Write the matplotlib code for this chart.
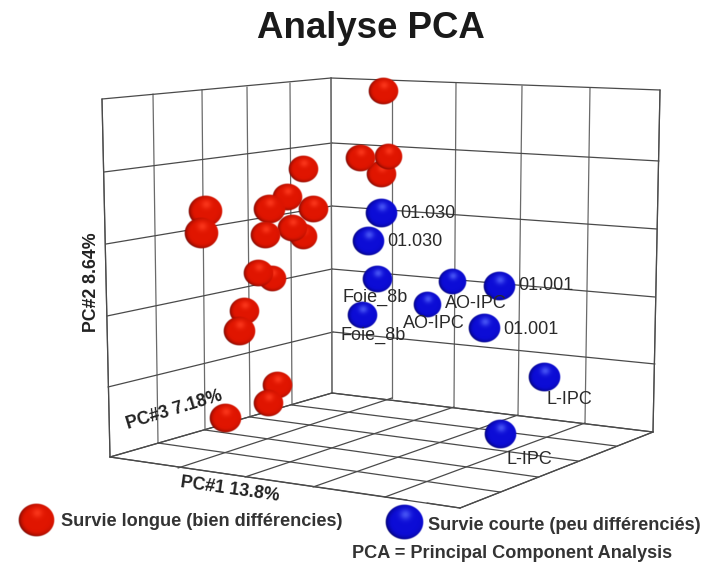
import numpy as np
import matplotlib
matplotlib.use('Agg')
import matplotlib.pyplot as plt

plt.rcParams['font.family'] = ['Liberation Sans', 'DejaVu Sans']

# grid corners, read in picture pixels
left_top = [(102, 99), (153, 94), (202, 90), (247, 87), (290, 83), (331, 78)]
left_bottom = [(110, 457), (158, 443), (205, 430), (250, 417), (292, 405), (332, 393)]
left_edge = [(102, 99), (104, 172), (106, 244), (107, 316), (108, 387), (110, 457)]
center_edge = [(331, 78), (332, 143), (332, 206), (332, 269), (333, 332), (332, 393)]
right_top = [(331, 78), (392, 80), (456, 83), (522, 86), (590, 88), (660, 90)]
right_bottom = [(332, 393), (392, 398), (454, 407), (518, 415), (585, 423), (653, 432)]
right_edge = [(660, 90), (659, 161), (657, 229), (655, 297), (655, 364), (653, 432)]
floor_front_left = [(110, 457), (178, 468), (245, 477), (313, 487), (385, 497), (460, 508)]
floor_front_right = [(460, 508), (500, 492), (538, 477), (578, 461), (616, 446), (653, 432)]

# red group
red_x = [383, 381, 388, 360, 303, 287, 313, 269, 303, 292, 265, 205, 201, 272, 258, 244, 239, 277, 268, 225]
red_y = [91, 174, 157, 158, 169, 197, 209, 209, 237, 228, 235, 211, 233, 279, 273, 311, 331, 385, 403, 418]
red_r = [15, 15, 14, 15, 15, 15, 15, 16, 14, 15, 15, 17, 17, 14, 15, 15, 16, 15, 15, 16]

# blue group
blue_x = [381, 368, 377, 452, 499, 427, 362, 484, 544, 500]
blue_y = [213, 241, 279, 282, 286, 305, 315, 328, 377, 434]
blue_r = [16, 16, 15, 14, 16, 14, 15, 16, 16, 16]

point_labels = ['01.030', '01.030', 'Foie_8b', 'Foie_8b', 'AO-IPC', 'AO-IPC', '01.001', '01.001', 'L-IPC', 'L-IPC']
label_x = [400, 387, 343, 340, 445, 403, 518, 503, 547, 506]
label_y = [214, 242, 297, 335, 303, 324, 286, 330, 399, 460]

RED = ('#6e0500', '#e01500', '#ff3c20')
BLUE = ('#00006a', '#0c0cd6', '#5262fa')


def draw_sphere(ax, x, y, r, colors, z):
    dark, mid, light = [np.array(matplotlib.colors.to_rgb(c)) for c in colors]
    rx = r + 0.5
    ry = rx * 0.9
    n = int(rx * 6)
    yy, xx = np.mgrid[-1:1:n * 1j, -1:1:n * 1j]
    d = np.hypot(xx, yy)
    edge = np.clip((d - 0.6) / 0.4, 0, 1) ** 2
    # darker rim on the left and bottom side
    edge = np.clip(edge * (0.55 - 0.5 * xx + 0.25 * yy), 0, 1)
    hl = np.exp(-((xx - 0.05) ** 2 + (yy + 0.42) ** 2) / 0.08)
    rgb = mid + (dark - mid) * edge[..., None] + (light - mid) * (0.8 * hl)[..., None]
    alpha = np.clip((1 - d) * ry, 0, 1)
    img = np.dstack([np.clip(rgb, 0, 1), alpha])
    ax.imshow(img, extent=(x - rx, x + rx, y + ry, y - ry), aspect='auto',
              interpolation='bilinear', zorder=z)


def grid_lines(ax, starts, ends, color='#4a4a4a', lw=0.9):
    for a, b in zip(starts, ends):
        ax.plot([a[0], b[0]], [a[1], b[1]], color=color, lw=lw, zorder=1, solid_capstyle='round')


fig = plt.figure(figsize=(7.05, 5.65), dpi=100)
ax = fig.add_axes([0, 0, 1, 1])

grid_lines(ax, left_top, left_bottom, color='#6a6a6a')
grid_lines(ax, left_edge, center_edge)
grid_lines(ax, right_top, right_bottom, color='#6a6a6a')
grid_lines(ax, center_edge, right_edge)
grid_lines(ax, left_bottom, floor_front_right)
grid_lines(ax, floor_front_left, right_bottom)

# outer edges
grid_lines(ax, [left_edge[0]], [left_edge[-1]])
grid_lines(ax, [right_edge[0]], [right_edge[-1]])
grid_lines(ax, [left_bottom[0], (427, 503)], [(407, 500), floor_front_left[-1]])
grid_lines(ax, [floor_front_right[0]], [floor_front_right[-1]])

z = 3
for x, y, r in zip(red_x, red_y, red_r):
    draw_sphere(ax, x, y, r, RED, z)
    z += 1
for x, y, r in zip(blue_x, blue_y, blue_r):
    draw_sphere(ax, x, y, r, BLUE, z)
    z += 1

for t, x, y in zip(point_labels, label_x, label_y):
    ax.text(x, y, t, fontsize=13, color='#2a2a2a', ha='left', va='center', zorder=50)

ax.text(371, 29, 'Analyse PCA', fontsize=26.4, fontweight='bold', color='#1a1a1a',
        ha='center', va='center', zorder=50)
ax.text(91, 282, 'PC#2 8.64%', fontsize=12.8, fontweight='bold', color='#222222', rotation=90,
        ha='center', va='center', zorder=50)
ax.text(174, 410, 'PC#3 7.18%', fontsize=12.8, fontweight='bold', color='#222222', rotation=17,
        ha='center', va='center', zorder=50, rotation_mode='anchor')
ax.text(230, 489, 'PC#1 13.8%', fontsize=12.8, fontweight='bold', color='#222222', rotation=-8,
        ha='center', va='center', zorder=50, rotation_mode='anchor')

draw_sphere(ax, 36, 520, 18, RED, 60)
draw_sphere(ax, 404, 522, 19, BLUE, 60)
ax.text(61, 522, 'Survie longue (bien différencies)', fontsize=13.05, fontweight='bold', color='#333333',
        ha='left', va='center', zorder=70)
ax.text(428, 525, 'Survie courte (peu différenciés)', fontsize=13.05, fontweight='bold', color='#333333',
        ha='left', va='center', zorder=70)
ax.text(352, 553, 'PCA = Principal Component Analysis', fontsize=13.05, fontweight='bold', color='#333333',
        ha='left', va='center', zorder=70)

ax.set_xlim(0, 705)
ax.set_ylim(565, 0)
ax.axis('off')

fig.savefig('out.png', dpi=100)
plt.close(fig)
